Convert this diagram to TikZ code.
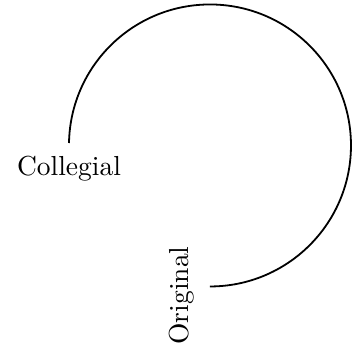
\documentclass[tikz,border=0pt]{standalone}
\usepackage{fontspec}
\setmainfont{lmroman10-regular}[Extension=.otf]
\usetikzlibrary{positioning}

\begin{document}
\begin{tikzpicture}[line width=1.8pt, font=\fontsize{27.5}{32}\selectfont]
        \tikzstyle{lbl} = [inner sep=0.333em, text centered]
        \useasboundingbox (-210pt,-200pt) rectangle (148pt,146pt);

        \node[lbl, inner ysep=12pt, anchor=north] (collegial) at (-141pt,3pt) {Collegial};

        \draw (collegial.north) arc[start angle=179, end angle=-90, radius=141pt] coordinate (tail);

        \node[lbl, rotate=90, anchor=south] (original) at ([xshift=-11.5pt, yshift=-9pt]tail) {Original};
    \end{tikzpicture}
\end{document}
